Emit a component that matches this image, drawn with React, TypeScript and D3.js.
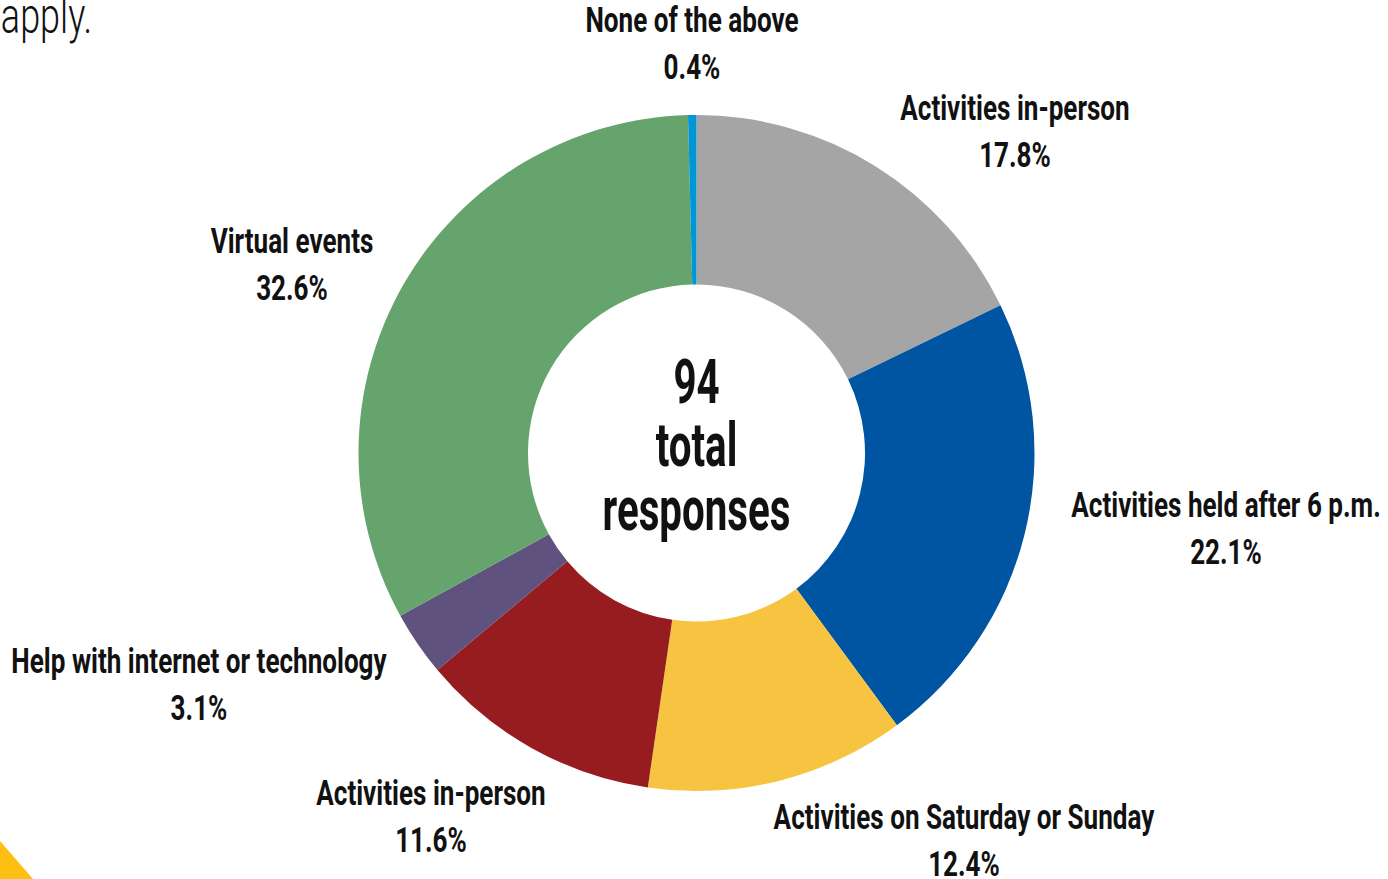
import React from "react";
import * as d3 from "d3";

const categories = [
  "Activities in-person",
  "Activities held after 6 p.m.",
  "Activities on Saturday or Sunday",
  "Activities in-person",
  "Help with internet or technology",
  "Virtual events",
  "None of the above",
];
const values = [17.8, 22.1, 12.4, 11.6, 3.1, 32.6, 0.4];
const colors = ["#a5a5a5", "#0055a2", "#f6c441", "#961c1f", "#5f527e", "#65a46c", "#0096d6"];
// label anchor (center x, first baseline y) for each slice
const labelPos: [number, number][] = [
  [1015, 120],
  [1226, 517],
  [964, 829],
  [431, 805],
  [199, 673],
  [292, 253],
  [692, 32],
];
const centerLines = ["94", "total", "responses"];

const W = 1388;
const H = 879;
const cx = 696.5;
const cy = 453;
const R = 338;
const r = 168.5;
const FONT = "Roboto, 'DejaVu Sans', sans-serif";
const SX = 0.745;

export default function App() {
  const pie = d3.pie<number>().sort(null).value((d) => d);
  const arcs = pie(values);
  const arc = d3.arc<d3.PieArcDatum<number>>().innerRadius(r).outerRadius(R);
  return (
    <svg
      width={W}
      height={H}
      style={{ position: "absolute", left: 0, top: 0, background: "#fff" }}
      fontFamily={FONT}
    >
      <rect width={W} height={H} fill="#fff" />
      <g transform={`translate(92,33) scale(0.72,1)`}>
        <text x={0} y={0} textAnchor="end" fontSize={50} fontWeight={300} fill="#111">
          apply.
        </text>
      </g>
      <path d="M0,841 L33,879 L0,879 Z" fill="#fdbf14" />
      <g transform={`translate(${cx},${cy})`}>
        {arcs.map((a, i) => (
          <path key={i} d={arc(a) || ""} fill={colors[i]} />
        ))}
      </g>
      {categories.map((c, i) => (
        <g key={i} transform={`translate(${labelPos[i][0]},${labelPos[i][1]}) scale(${SX},1)`}>
          <text textAnchor="middle" fontSize={35} fontWeight={700} fill="#111">
            <tspan x={0} y={0}>{c}</tspan>
            <tspan x={0} y={47}>
              {values[i].toFixed(1) + "%"}
            </tspan>
          </text>
        </g>
      ))}
      <g transform={`translate(${cx},0) scale(0.65,1)`}>
        <text textAnchor="middle" fontSize={62} fontWeight={700} fill="#111">
          {centerLines.map((t, i) => (
            <tspan key={i} x={0} y={403 + i * 63.5}>
              {t}
            </tspan>
          ))}
        </text>
      </g>
    </svg>
  );
}
